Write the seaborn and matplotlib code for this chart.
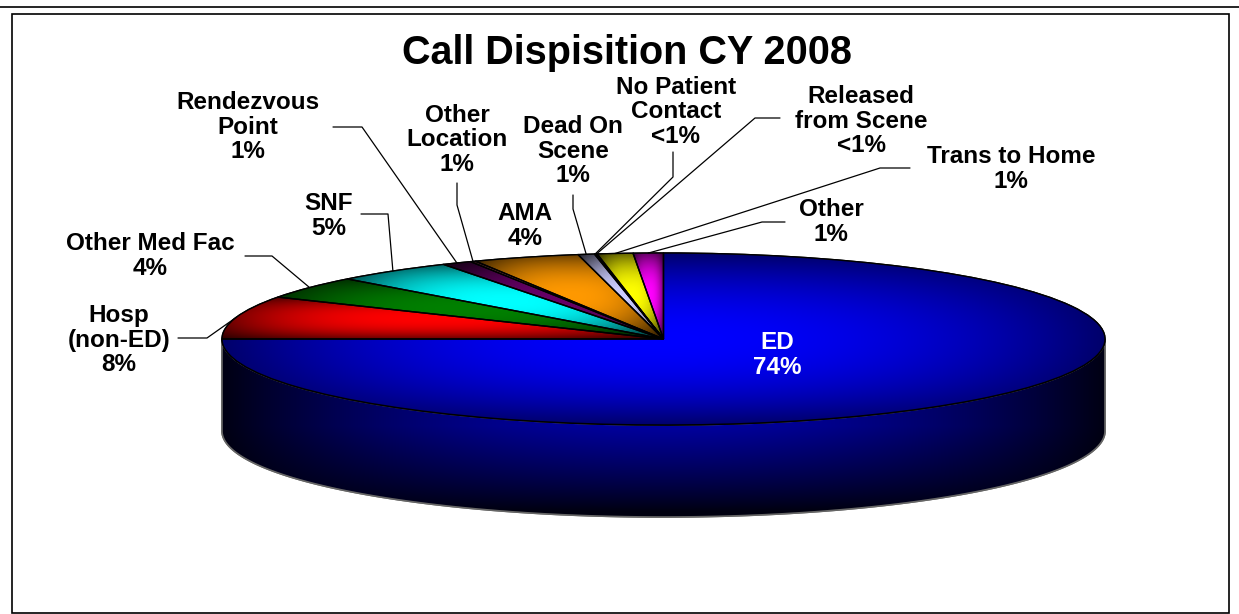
import numpy as np
import pandas as pd
import seaborn as sns
import matplotlib
matplotlib.use('Agg')
import matplotlib.pyplot as plt
from matplotlib.patches import Rectangle, Polygon
from matplotlib.lines import Line2D

# Data
categories = ['ED', 'Hosp (non-ED)', 'Other Med Fac', 'SNF', 'Rendezvous Point', 'Other Location',
              'AMA', 'Dead On Scene', 'No Patient Contact', 'Released from Scene', 'Trans to Home', 'Other']
values = [75.0, 8.1, 4.2, 4.4, 1.1, 0.2, 3.9, 0.6, 0.05, 0.05, 1.3, 1.1]
label_text = ['ED\n74%', 'Hosp\n(non-ED)\n8%', 'Other Med Fac\n4%', 'SNF\n5%', 'Rendezvous\nPoint\n1%',
              'Other\nLocation\n1%', 'AMA\n4%', 'Dead On\nScene\n1%', 'No Patient\nContact\n<1%',
              'Released\nfrom Scene\n<1%', 'Trans to Home\n1%', 'Other\n1%']
slice_colors = ['#0000ff', '#ff0000', '#008000', '#00ffff', '#660066', '#ff8080',
                '#ff9900', '#ccccff', '#ffffff', '#ffff99', '#ffff00', '#ff00ff']
title = 'Call Dispisition CY 2008'

df = pd.DataFrame({'category': categories, 'value': values, 'label': label_text})

# Layout in image pixels
W, H = 1239, 614
CX, CY, RX, RY = 663.5, 339, 441.5, 86
DEPTH = 92
label_pos = [(777, 355), (119, 340), (150, 256), (329, 216), (248, 127), (457, 140),
             (525, 226), (573, 151), (676, 112), (861, 121), (1011, 169), (831, 222)]
# first points of the leader lines, the last point comes from the slice angle
leaders = {1: [(178, 338), (207, 338)], 2: [(245, 256), (272, 256)], 3: [(361, 214), (388, 214)],
           4: [(333, 127), (362, 127)], 5: [(457, 183), (457, 205)], 7: [(573, 195), (573, 209)],
           8: [(673, 152), (673, 177)], 9: [(780, 118), (755, 118)], 10: [(910, 168), (880, 168)],
           11: [(785, 222), (762, 222)]}

sns.set_theme(style='white')
plt.rcParams['font.family'] = ['Liberation Sans', 'DejaVu Sans']
palette = sns.color_palette(slice_colors)

fig = plt.figure(figsize=(W / 100, H / 100), dpi=100)
ax = fig.add_axes([0, 0, 1, 1])

# side of the disc
t = np.radians(np.linspace(180, 360, 300))
top_arc = np.c_[np.cos(t), np.sin(t)]
bottom_arc = np.c_[np.cos(t[::-1]), np.sin(t[::-1]) - DEPTH / RY]
side = Polygon(np.r_[top_arc, bottom_arc], closed=True, facecolor='black', edgecolor='#666666', lw=1.2, zorder=1)
ax.add_patch(side)
gx = np.linspace(-1, 1, 500)
gy = np.linspace(0, -1 - DEPTH / RY, 300)
xx, yy = np.meshgrid(gx, gy)
py = CY - yy * RY
fade_x = 0.12 + 0.88 * (1 - np.abs(xx) ** 2)
fade_y = np.clip((CY + RY + DEPTH - py) / (RY + 5), 0.06, 1) ** 0.8 * 0.62
rgb = np.zeros(xx.shape + (3,))
rgb[..., 2] = fade_x * fade_y
im = ax.imshow(rgb, extent=(-1, 1, -1 - DEPTH / RY, 0), origin='upper', aspect='auto', zorder=2)
im.set_clip_path(side)
ax.add_patch(Polygon(np.r_[top_arc, bottom_arc], closed=True, fill=False, edgecolor='#666666', lw=1.2, zorder=2.5))

# top of the disc, every slice gets its own gradient
wedges, _ = ax.pie(df['value'], colors=palette, startangle=90, counterclock=False, radius=1,
                   wedgeprops={'edgecolor': 'black', 'linewidth': 1.0, 'zorder': 3})
for i, (w, col) in enumerate(zip(wedges, palette)):
    box = w.get_path().transformed(w.get_patch_transform()).get_extents()
    u = np.linspace(-1, 1, 300)
    v = np.linspace(-1, 1, 200)
    uu, vv = np.meshgrid(u, v)
    if i == 0:
        shade = (1 - 0.58 * uu ** 2) * (1 - 0.58 * vv ** 2)
    else:
        # the small slices stay bright longer
        shade = (1 - 0.6 * np.abs(uu) ** 2.6) * (1 - 0.6 * np.abs(vv) ** 2.2)
    img = shade[..., None] * np.array(col)
    im = ax.imshow(img, extent=(box.x0, box.x1, box.y0, box.y1), aspect='auto', zorder=4)
    im.set_clip_path(w)
ax.pie(df['value'], colors=palette, startangle=90, counterclock=False, radius=1,
       wedgeprops={'edgecolor': 'black', 'linewidth': 1.0, 'fill': False, 'zorder': 5})
ax.set_aspect('auto')
ax.set_xlim(-CX / RX, (W - CX) / RX)
ax.set_ylim((CY - H) / RY, CY / RY)
ax.axis('off')

# text and leader lines in pixel coordinates
ov = fig.add_axes([0, 0, 1, 1])
ov.set_xlim(0, W)
ov.set_ylim(H, 0)
ov.axis('off')
ov.patch.set_alpha(0)

ov.text(627, 53, title, ha='center', va='center', fontsize=28.5, fontweight='bold', color='black')
for i, row in df.iterrows():
    x, y = label_pos[i]
    ov.text(x, y, row['label'], ha='center', va='center', fontsize=17.5, fontweight='bold',
            color='white' if i == 0 else 'black', linespacing=1.1, zorder=6)
    if i in leaders:
        w = wedges[i]
        mid = np.radians((w.theta1 + w.theta2) / 2)
        end = (CX + RX * np.cos(mid), CY - RY * np.sin(mid))
        pts = leaders[i] + [end]
        ov.plot([p[0] for p in pts], [p[1] for p in pts], color='black', lw=0.9, zorder=5)

# frame of the picture
fig.add_artist(Line2D([0, 1], [1 - 6.5 / H, 1 - 6.5 / H], color='black', lw=1.2))
fig.add_artist(Rectangle((12 / W, 1 - 613 / H), (1229 - 12) / W, (613 - 14) / H, fill=False,
                         edgecolor='black', lw=1.2, transform=fig.transFigure))

fig.savefig('out.png', dpi=100)
